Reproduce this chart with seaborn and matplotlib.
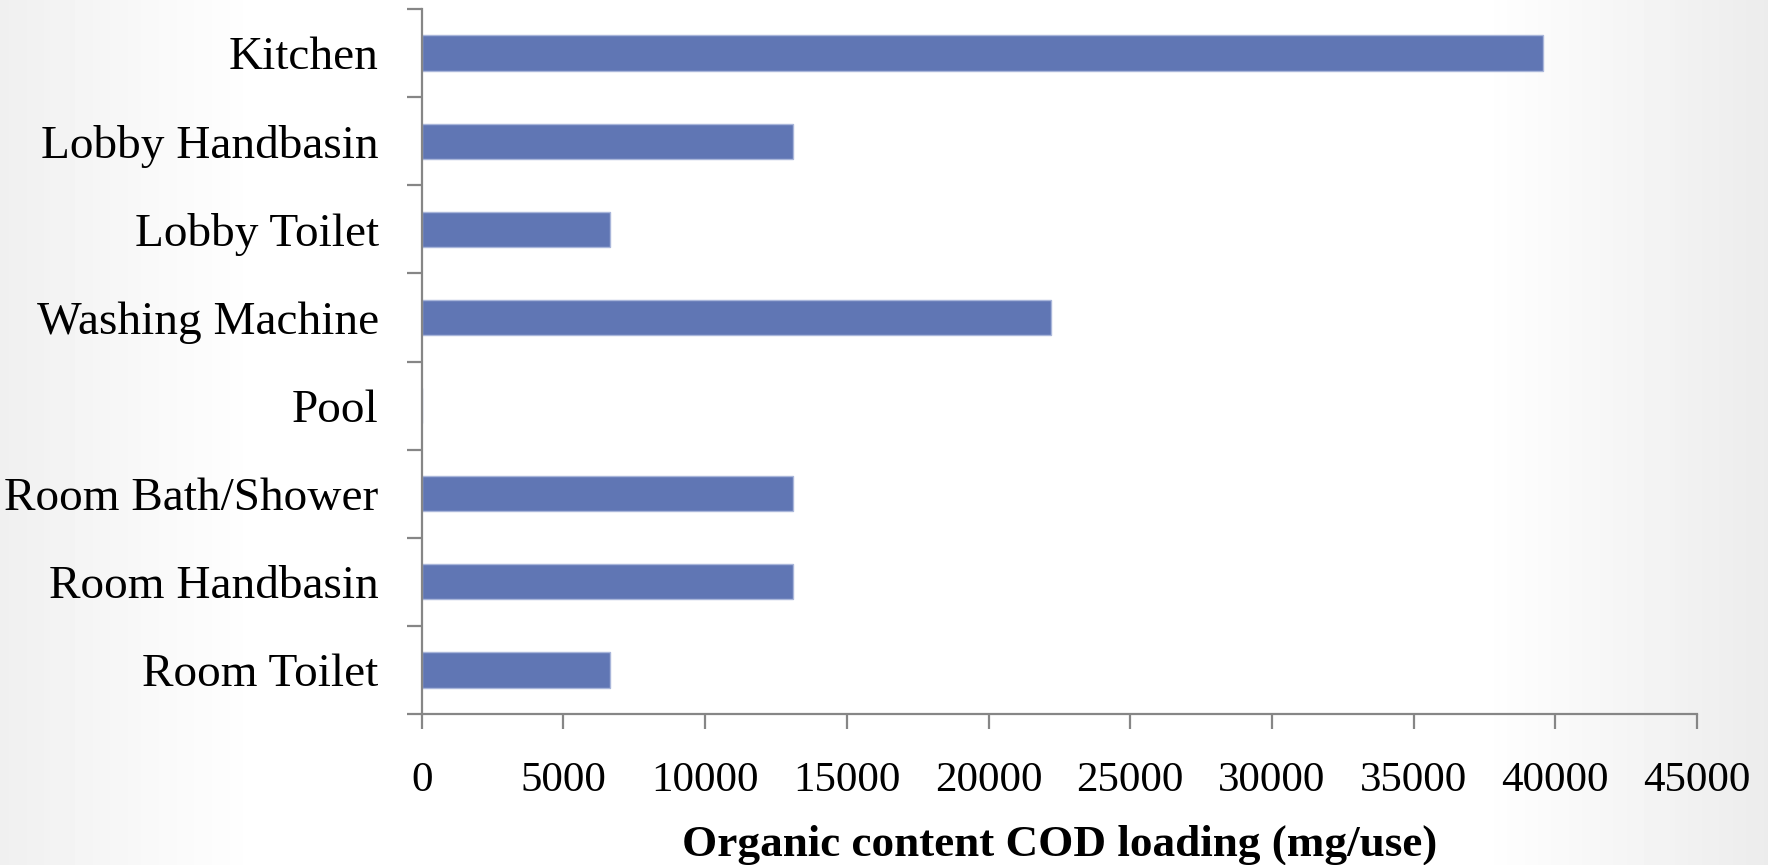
import numpy as np
import pandas as pd
import matplotlib
matplotlib.use("Agg")
import matplotlib.pyplot as plt
import seaborn as sns
from matplotlib.ticker import FixedLocator, NullFormatter, FixedFormatter

categories = ["Kitchen", "Lobby Handbasin", "Lobby Toilet", "Washing Machine",
              "Pool", "Room Bath/Shower", "Room Handbasin", "Room Toilet"]
values = [39550, 13100, 6650, 22200, 0, 13100, 13100, 6650]
x_ticks = [0, 5000, 10000, 15000, 20000, 25000, 30000, 35000, 40000, 45000]
x_label = "Organic content COD loading (mg/use)"

df = pd.DataFrame({"category": categories, "value": values})

sns.set_theme(style="white")
plt.rcParams["font.family"] = ["Liberation Serif", "DejaVu Serif"]

W, H, DPI = 1768, 865, 100
fig = plt.figure(figsize=(W / DPI, H / DPI), dpi=DPI)

# background gradient (slide style)
bg = fig.add_axes([0, 0, 1, 1], zorder=-10)
xs = np.linspace(0, W, 400)
row = np.interp(xs, [0, 260, 1480, 1768], [0.94, 1.0, 1.0, 0.925])
grad = np.tile(row, (50, 1))
bg.imshow(grad, aspect="auto", cmap="gray", vmin=0, vmax=1, extent=[0, 1, 0, 1])
bg.axis("off")

left, right = 421.7 / W, 1697 / W
bottom, top = 1 - 714 / H, 1 - 9 / H
ax = fig.add_axes([left, bottom, right - left, top - bottom])
ax.set_facecolor("none")

sns.barplot(data=df, x="value", y="category", orient="h", color="#6076B4",
            saturation=1, width=0.4, edgecolor="#a9b6da", linewidth=1, ax=ax)

axis_col = "#868686"
for s in ["top", "right"]:
    ax.spines[s].set_visible(False)
for s in ["left", "bottom"]:
    ax.spines[s].set_color(axis_col)
    ax.spines[s].set_linewidth(1.6)

ax.set_xlim(0, 45000)
ax.set_ylim(len(categories) - 0.5, -0.5)
ax.set_xticks(x_ticks)
ax.set_xticklabels([str(t) for t in x_ticks])
ax.tick_params(axis="x", direction="out", length=11, width=1.6, color=axis_col,
               pad=23, labelsize=31, labelcolor="black", bottom=True)

ax.yaxis.set_major_locator(FixedLocator(np.arange(-0.5, len(categories), 1)))
ax.yaxis.set_major_formatter(NullFormatter())
ax.yaxis.set_minor_locator(FixedLocator(np.arange(len(categories))))
ax.yaxis.set_minor_formatter(FixedFormatter(categories))
ax.tick_params(axis="y", which="major", direction="out", length=11, width=1.6,
               color=axis_col, left=True)
ax.tick_params(axis="y", which="minor", length=0, pad=31, labelsize=34,
               labelcolor="black", left=True)

ax.set_ylabel("")
ax.set_xlabel(x_label, fontsize=32.5, fontweight="bold", labelpad=18, color="black")
ax.grid(False)

fig.savefig("out.png", dpi=DPI)
